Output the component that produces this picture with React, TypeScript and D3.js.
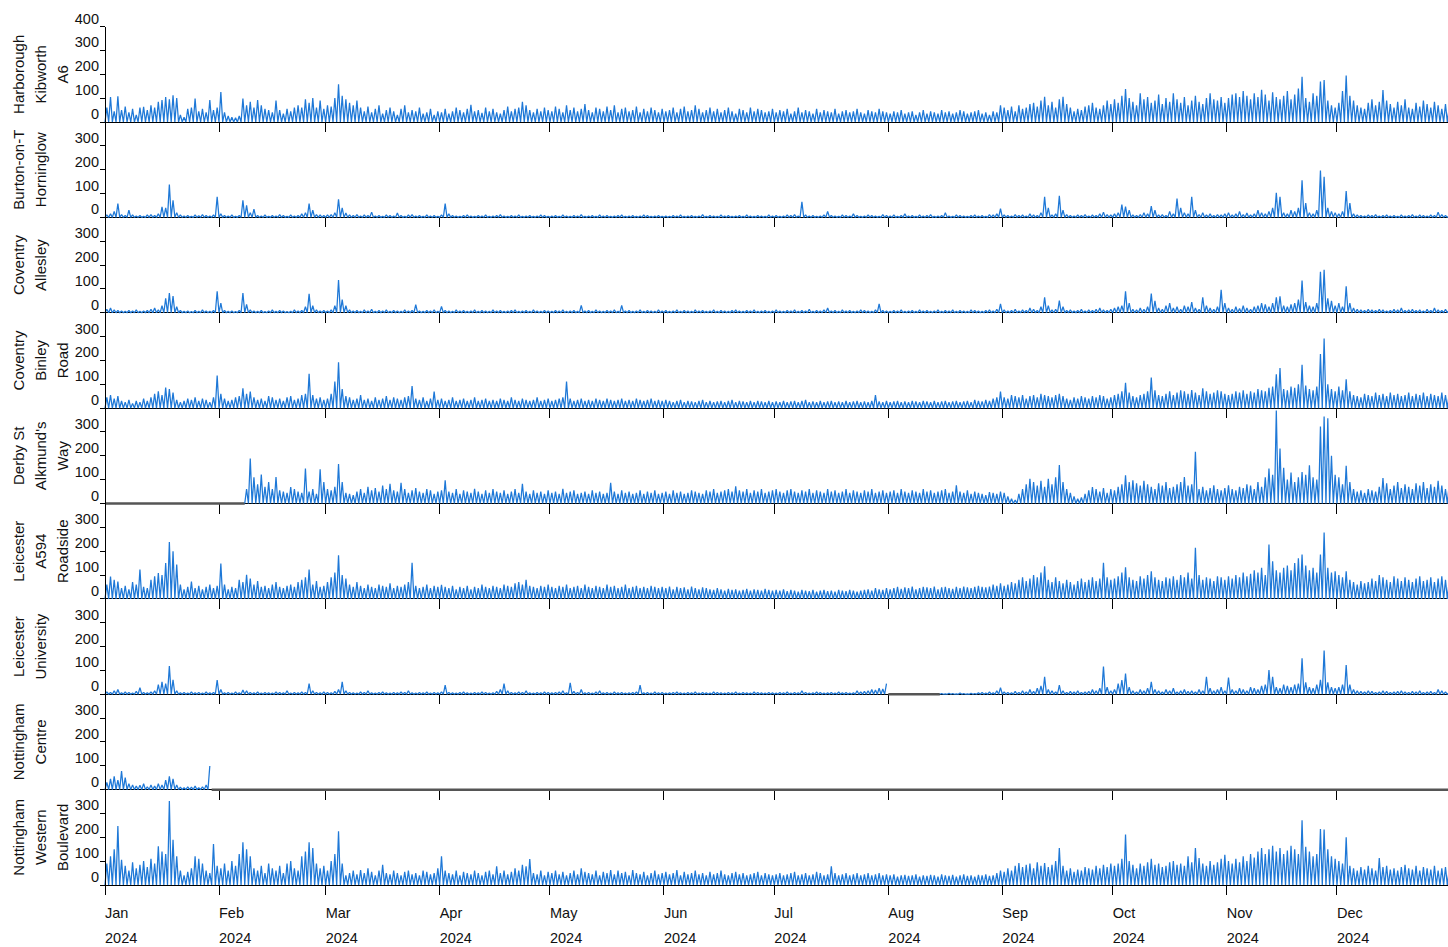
import React, { useRef, useEffect } from "react";
import * as d3 from "d3";

// station names, one entry per text line
const stationLabels = [
  ["Harborough", "Kibworth", "A6"],
  ["Burton-on-T", "Horninglow"],
  ["Coventry", "Allesley"],
  ["Coventry", "Binley", "Road"],
  ["Derby St", "Alkmund's", "Way"],
  ["Leicester", "A594", "Roadside"],
  ["Leicester", "University"],
  ["Nottingham", "Centre"],
  ["Nottingham", "Western", "Boulevard"],
];

const monthNames = ["Jan", "Feb", "Mar", "Apr", "May", "Jun", "Jul", "Aug", "Sep", "Oct", "Nov", "Dec"];
const yearLabel = "2024";
const yTicks = [0, 100, 200, 300];
const yTicksTop = [0, 100, 200, 300, 400];

// daily peak values, one string per month ("-" or empty = no data)
const harborough = [
  "60 105 45 108 50 65 40 55 30 60 64 50 70 60 85 92 105 95 112 100 30 20 55 60 98 45 55 40 92 50 60",
  "126 40 25 20 18 25 98 70 85 60 92 70 55 50 40 90 50 35 55 45 60 70 60 95 80 100 60 90 55",
  "70 65 100 158 110 95 80 70 90 60 45 65 40 55 70 35 50 60 45 30 55 70 40 50 45 60 35 40 55 30 45",
  "40 55 35 45 60 50 40 55 72 45 50 38 60 45 55 40 35 50 65 45 55 60 85 70 50 40 55 45 60 50",
  "45 65 55 40 70 50 60 45 55 75 50 40 60 55 45 65 50 70 40 55 60 45 50 65 40 55 45 60 50 40 55",
  "45 50 60 40 55 65 45 50 70 55 40 50 60 45 55 40 50 60 45 35 55 50 40 60 45 55 50 40 45 55",
  "40 50 45 55 35 45 60 40 50 45 35 55 40 50 45 40 55 35 45 50 40 45 55 40 35 50 45 40 55 45 40",
  "35 45 40 50 35 40 45 30 40 50 35 45 40 35 50 40 45 35 40 50 45 35 40 45 50 35 40 30 45 40 70",
  "60 50 65 45 70 55 60 75 80 65 90 106 70 85 60 95 106 75 60 45 55 50 65 70 80 60 55 70 90 75",
  "95 80 110 138 100 85 70 120 95 105 80 90 115 75 100 85 120 95 80 105 70 90 110 85 75 100 120 95 90 105 80",
  "100 115 120 105 130 110 95 120 105 135 115 90 125 105 95 110 130 95 115 140 190 100 85 120 110 170 176 90 70 60",
  "80 130 195 110 90 70 60 55 80 95 70 85 134 90 75 60 85 70 95 60 55 80 65 90 75 60 85 70 55 75 60",
];

const burton = [
  "10 15 25 58 12 8 30 10 6 8 5 10 12 8 15 44 40 138 72 20 10 6 8 5 10 7 12 8 6 10 86",
  "15 8 6 10 5 8 72 50 20 35 8 6 10 5 8 6 12 8 5 10 6 8 15 20 58 30 12 10 8",
  "10 12 20 76 40 18 10 8 12 6 10 8 22 6 8 5 10 8 6 18 8 5 10 12 6 8 5 10 6 8 5",
  "10 58 15 8 6 5 8 10 6 5 8 6 10 5 6 8 12 6 5 8 6 10 5 6 8 5 6 10 8 5",
  "6 8 5 10 6 5 8 6 12 5 6 8 5 10 6 8 5 6 8 10 5 6 8 5 6 10 8 5 6 8 5",
  "6 5 8 6 10 5 6 8 5 6 12 5 8 6 5 10 6 8 5 6 8 5 10 6 5 8 6 5 10 6",
  "8 5 6 10 8 12 6 65 10 6 8 5 6 10 25 8 6 5 10 8 6 15 8 5 6 10 8 6 5 12 8",
  "6 10 5 8 15 6 8 5 10 6 8 12 5 6 8 20 6 5 10 8 6 5 8 10 6 8 5 12 10 15 37",
  "10 8 6 12 8 10 6 15 10 8 20 86 40 10 15 90 30 12 8 6 10 8 12 6 10 8 15 22 12 10",
  "15 20 54 45 30 10 8 12 20 15 47 30 10 12 8 25 15 79 40 20 15 86 30 12 20 10 15 8 12 10 15",
  "20 10 15 25 12 18 10 15 30 20 15 25 40 103 86 20 15 30 25 40 156 60 20 15 30 196 170 40 25 20",
  "15 25 110 60 15 10 8 6 10 8 12 6 8 10 6 8 5 10 6 8 12 6 10 8 6 10 8 22 12 8 6",
];

const allesley = [
  "15 20 12 10 8 6 10 8 12 6 8 10 15 20 12 30 60 83 70 25 10 6 8 5 10 6 12 8 6 10 90",
  "40 10 6 8 5 10 83 35 12 8 6 10 5 8 12 6 10 8 5 6 12 8 10 25 79 30 12 8 10",
  "8 12 30 137 55 30 12 8 10 6 12 8 15 6 10 8 12 6 10 8 6 12 8 10 34 8 6 10 8 12 6",
  "27 10 8 6 12 8 10 6 8 12 6 10 8 6 12 8 10 6 8 10 12 6 8 10 6 12 8 6 10 8",
  "6 10 8 12 6 8 10 6 31 8 10 6 12 8 6 10 8 12 6 31 8 10 6 8 12 6 10 8 6 12 8",
  "10 6 8 12 6 10 8 6 12 8 10 6 8 12 6 10 8 6 10 12 8 6 10 8 12 6 8 10 6 8",
  "12 8 6 10 8 12 6 10 8 15 6 10 8 12 20 8 10 6 12 8 10 6 8 12 10 8 6 12 37 10 8",
  "6 10 8 12 6 8 10 6 12 8 10 6 8 12 6 10 8 12 6 10 8 6 12 10 8 6 10 12 8 15 37",
  "12 8 10 15 8 12 10 20 15 10 25 65 30 12 15 51 25 10 12 8 10 15 8 12 10 15 20 12 10 15",
  "20 25 30 90 40 15 12 20 15 25 80 50 20 15 30 40 20 25 15 30 25 45 20 15 65 30 20 15 25 96 40",
  "20 15 25 18 30 20 15 25 30 40 35 25 40 65 69 30 25 35 40 55 135 45 30 25 40 172 180 60 50 30",
  "40 25 111 40 20 15 12 10 15 12 10 15 12 8 10 15 12 20 10 12 15 10 12 8 15 10 20 12 10 15 12",
];

const binley = [
  "45 55 40 50 30 25 35 20 30 25 40 30 45 60 70 55 86 80 65 35 25 30 40 35 45 30 40 35 25 45 137",
  "60 40 30 35 45 50 83 60 69 45 35 40 30 50 45 35 40 30 45 50 35 40 55 60 144 55 40 45 35",
  "40 60 111 192 80 50 45 35 40 55 35 40 30 45 35 40 50 35 45 40 35 45 50 93 40 35 45 30 40 69 35",
  "40 30 35 45 30 35 40 30 35 45 30 35 40 30 35 30 40 35 30 45 35 30 40 35 30 35 45 30 35 40",
  "30 35 40 45 111 40 30 35 40 30 35 30 40 35 30 40 35 30 35 40 30 35 30 40 35 30 35 40 30 35 30",
  "35 30 25 30 35 25 30 28 25 30 35 25 30 25 28 30 25 30 35 25 30 28 25 30 25 30 28 25 30 25",
  "28 25 30 25 28 30 25 30 35 25 28 25 30 25 28 30 25 28 25 30 25 28 30 25 28 25 30 55 28 25 30",
  "25 28 30 25 28 25 30 28 25 30 28 25 30 25 28 30 25 28 30 25 28 30 25 35 30 28 35 30 40 45 69",
  "45 40 55 50 45 55 40 50 55 45 60 55 50 45 55 60 50 40 35 45 40 50 45 40 50 45 55 50 40 45",
  "55 60 70 106 65 50 45 55 60 70 128 75 55 50 60 70 55 65 75 70 60 76 65 55 83 70 60 65 75 70 60",
  "55 60 70 65 75 60 70 65 80 75 70 85 90 142 168 80 75 90 85 100 182 95 80 75 90 227 292 100 80 70",
  "90 75 121 70 55 50 45 60 55 50 65 55 60 50 65 55 60 50 55 65 50 60 55 65 50 60 55 50 65 55 60",
];

const derby = [
  "",
  "- - - - - - - 60 189 110 80 121 70 90 60 111 55 50 45 69 60 50 45 147 50 60 40 144 90",
  "60 55 70 166 90 45 40 35 50 60 45 70 55 65 50 75 60 83 55 50 87 60 45 55 65 50 45 60 55 40 50",
  "55 97 50 45 60 40 55 50 45 62 50 40 55 45 60 50 45 55 40 50 60 45 83 50 40 55 45 50 40 55",
  "45 50 40 62 45 50 55 40 45 50 40 55 45 50 40 45 87 50 40 55 45 50 40 45 55 40 50 45 55 40 45",
  "50 40 55 45 50 40 45 55 50 45 40 55 50 60 45 50 55 60 50 72 55 50 60 45 55 50 60 45 50 55",
  "60 50 45 55 60 50 45 55 50 60 45 55 50 45 60 50 55 45 50 60 45 55 50 45 55 50 60 45 50 55 45",
  "50 55 45 60 50 45 55 50 45 60 50 55 45 50 55 60 45 50 76 50 45 55 40 50 45 40 35 48 45 40 50",
  "45 30 20 15 40 60 80 104 90 75 95 70 104 80 110 161 90 60 45 30 20 25 40 55 69 60 50 65 45 60",
  "55 70 80 118 90 97 85 75 95 80 70 60 85 75 90 65 70 80 90 111 75 80 217 60 70 55 65 76 60 55 65",
  "76 60 55 70 65 80 75 60 90 70 110 147 120 390 231 150 100 130 90 110 132 120 160 110 100 323 365 358 200 120",
  "110 80 158 90 60 50 55 45 60 55 50 70 107 85 60 75 90 65 80 70 60 85 75 90 65 80 70 95 75 60 80",
];

const leicesterA594 = [
  "60 94 80 73 45 55 40 70 60 123 50 45 80 95 108 100 150 238 200 144 60 40 50 73 45 55 40 50 60 45 55",
  "148 60 40 50 45 80 70 101 85 60 75 50 55 45 60 70 50 45 55 60 50 70 80 90 123 60 75 50 55",
  "70 90 110 183 100 85 60 50 70 55 45 60 50 45 60 55 50 65 45 55 50 60 70 151 55 45 50 60 45 55 50",
  "59 50 45 55 40 50 45 55 40 50 45 60 50 45 55 50 45 60 55 50 65 70 60 80 55 50 45 55 50 60",
  "50 45 55 50 60 45 50 55 45 60 50 45 55 50 45 60 50 55 45 50 60 45 50 55 45 50 45 55 50 45 50",
  "45 52 40 50 45 48 40 52 45 40 48 45 40 38 45 40 35 42 38 40 35 38 42 35 40 38 35 42 38 35",
  "38 35 40 32 38 35 30 38 35 32 38 30 35 38 32 35 30 38 35 32 38 35 30 35 38 40 35 45 40 38 45",
  "40 45 50 42 48 45 52 40 45 50 48 45 52 40 48 50 45 42 50 45 52 48 45 50 55 50 48 52 60 55 65",
  "55 60 70 65 80 90 75 85 100 90 110 137 80 70 90 75 65 80 70 60 75 85 70 80 90 75 85 151 90 80",
  "85 95 110 133 90 80 75 95 85 100 116 90 80 75 90 85 95 80 100 90 110 85 214 100 80 90 85 75 95 90 80",
  "95 85 100 90 110 95 105 120 110 130 100 228 158 120 110 130 140 120 150 170 186 140 120 130 110 186 278 130 110 116",
  "100 90 116 80 70 60 75 65 70 85 75 100 90 80 70 95 85 75 90 80 70 85 95 75 80 90 70 85 95 80 75",
];

const leicesterUni = [
  "10 8 15 20 6 10 8 5 12 28 8 6 10 15 40 52 45 118 60 15 6 8 5 10 6 8 5 10 6 8 59",
  "20 6 8 5 10 6 18 15 8 6 10 5 8 6 5 10 8 6 15 5 8 6 10 8 45 15 8 6 10",
  "8 6 12 20 52 15 8 6 5 10 8 15 6 5 8 10 6 5 8 6 10 8 15 6 5 8 6 10 5 8 6",
  "10 38 8 6 5 8 10 6 5 8 6 10 8 5 6 12 20 45 15 8 6 10 8 15 6 5 8 6 10 8",
  "6 8 10 15 6 48 12 8 20 6 8 5 10 15 6 8 5 10 6 8 5 6 8 10 38 6 8 5 10 6 8",
  "5 6 8 10 6 5 8 6 10 5 8 6 5 10 8 6 5 8 6 10 5 8 6 5 10 8 6 5 8 6",
  "5 8 6 10 5 8 6 15 8 5 6 10 8 5 6 8 5 10 6 8 5 6 15 10 12 15 20 18 25 22 45",
  "- - - - - - - - - - - - - - 3 2 4 3 2 5 3 2 4 3 6 8 5 10 6 15 28",
  "10 8 6 12 8 15 10 20 12 25 35 73 20 15 10 38 15 8 12 10 15 8 10 12 20 15 25 116 30 15",
  "20 45 59 87 30 15 10 20 15 25 52 20 15 10 20 15 25 10 15 20 12 15 10 20 15 73 25 15 20 30 15",
  "70 20 15 25 20 15 30 25 20 35 40 101 73 30 25 40 35 30 40 45 151 50 30 25 40 60 183 50 30 25",
  "30 40 123 40 20 15 12 10 15 12 8 10 15 12 8 10 12 15 10 8 12 10 15 8 10 12 8 20 15 10 8",
];

const nottsCentre = [
  "30 45 56 40 78 50 25 20 15 18 25 12 20 15 25 20 40 56 45 20 10 8 12 10 15 8 12 20 99 - -",
  "", "", "", "", "", "", "", "", "", "", "",
];

const nottsWestern = [
  "90 120 150 247 106 80 60 95 70 85 100 75 110 90 162 140 130 352 190 120 60 40 55 70 120 110 90 60 50 172 80",
  "70 90 60 100 80 130 179 150 120 70 60 80 50 90 70 60 80 50 90 100 70 60 120 140 179 155 90 70 80",
  "60 100 130 225 90 40 50 60 45 63 50 70 55 40 60 85 50 45 60 50 40 55 60 45 50 40 60 55 45 50 70",
  "120 60 50 45 60 40 55 50 45 60 50 40 55 60 45 78 50 60 45 55 70 60 85 78 109 50 45 60 40 55",
  "50 60 45 55 40 50 60 45 70 55 50 45 60 40 55 50 63 45 60 50 55 40 63 50 45 55 40 50 60 45 50",
  "55 45 50 63 40 55 45 50 60 45 50 40 55 45 50 60 45 40 50 55 45 50 40 45 50 55 40 50 45 40",
  "45 50 40 45 50 55 40 45 50 40 45 55 50 40 45 78 50 40 45 50 40 45 50 40 45 50 40 45 50 40 45",
  "40 45 35 40 42 38 40 45 35 40 38 42 40 35 45 40 38 42 35 40 45 38 40 35 42 40 45 38 40 50 60",
  "55 70 60 80 92 75 85 90 70 95 80 92 75 85 100 155 80 60 70 55 65 60 75 70 65 80 70 85 75 90",
  "80 90 110 212 100 85 70 90 80 95 110 85 90 75 80 95 100 85 90 80 120 95 155 113 90 80 100 85 95 110 127",
  "100 90 110 95 120 100 130 115 140 155 130 150 165 140 155 130 145 165 150 130 271 160 140 120 130 235 233 150 120 110",
  "100 90 200 80 70 60 75 65 80 70 60 113 75 80 65 70 60 75 85 70 65 80 60 75 70 65 80 60 70 75 65",
];

const allSeries = [harborough, burton, allesley, binley, derby, leicesterA594, leicesterUni, nottsCentre, nottsWestern];

const W = 1448;
const H = 947;
const plotLeft = 105;
const plotRight = 1451;
const firstBase = 122;
const panelH = 95.375;
const blue = "#1e78d7";
const font = "'Liberation Sans', Arial, sans-serif";

type Pt = { day: Date; v: number | null };

function parseSeries(months: string[]): Pt[] {
  const out: Pt[] = [];
  months.forEach((s, m) => {
    const n = new Date(2024, m + 1, 0).getDate();
    const toks = s.trim() ? s.trim().split(/\s+/) : [];
    for (let i = 0; i < n; i++) {
      const t = toks[i];
      out.push({ day: new Date(2024, m, i + 1), v: t === undefined || t === "-" ? null : +t });
    }
  });
  return out;
}

const App = () => {
  const ref = useRef<SVGSVGElement>(null);

  useEffect(() => {
    const svg = d3.select(ref.current);
    svg.selectAll("*").remove();

    const x = d3
      .scaleTime()
      .domain([new Date(2024, 0, 1), new Date(2025, 0, 1)])
      .range([plotLeft, plotRight]);
    const monthStarts = d3.timeMonth.range(new Date(2024, 0, 1), new Date(2025, 0, 1));

    allSeries.forEach((months, i) => {
      const base = firstBase + i * panelH;
      const y = d3.scaleLinear().domain([0, 400]).range([base, base - panelH]);
      const g = svg.append("g");

      // baseline
      g.append("line")
        .attr("x1", plotLeft)
        .attr("x2", W)
        .attr("y1", base)
        .attr("y2", base)
        .attr("stroke", "#000")
        .attr("shape-rendering", "crispEdges");

      // month ticks hanging below baseline
      g.selectAll("line.mt")
        .data(monthStarts)
        .join("line")
        .attr("class", "mt")
        .attr("x1", (d) => x(d))
        .attr("x2", (d) => x(d))
        .attr("y1", base)
        .attr("y2", base + 10)
        .attr("stroke", "#000")
        .attr("shape-rendering", "crispEdges");

      // y ticks and labels
      const ticks = i === 0 ? yTicksTop : yTicks;
      g.selectAll("line.yt")
        .data(ticks)
        .join("line")
        .attr("class", "yt")
        .attr("x1", plotLeft - 5)
        .attr("x2", plotLeft)
        .attr("y1", (d) => y(d))
        .attr("y2", (d) => y(d))
        .attr("stroke", "#000")
        .attr("shape-rendering", "crispEdges");
      g.selectAll("text.yl")
        .data(ticks)
        .join("text")
        .attr("class", "yl")
        .attr("x", plotLeft - 6)
        .attr("y", (d) => y(d) - 3)
        .attr("text-anchor", "end")
        .style("font-family", font)
        .style("font-size", "14.5px")
        .style("fill", "#111")
        .text((d) => d);

      // station name, rotated, one column per line
      const cy = base - panelH / 2;
      stationLabels[i].forEach((txt, k) => {
        g.append("text")
          .attr("transform", `translate(${24 + k * 22},${cy}) rotate(-90)`)
          .attr("text-anchor", "middle")
          .style("font-family", font)
          .style("font-size", "15px")
          .style("fill", "#111")
          .text(txt);
      });

      const pts = parseSeries(months);

      // grey baseline where there is no data
      let start = -1;
      pts.forEach((p, j) => {
        const missing = p.v === null;
        if (missing && start < 0) start = j;
        if ((!missing || j === pts.length - 1) && start >= 0) {
          const end = missing ? j + 1 : j;
          const x0 = x(pts[start].day);
          const x1 = end < pts.length ? x(pts[end].day) : plotRight;
          g.append("line")
            .attr("x1", x0)
            .attr("x2", x1)
            .attr("y1", base)
            .attr("y2", base)
            .attr("stroke", "#555")
            .attr("stroke-width", 2.5);
          start = -1;
        }
      });

      // daily peaks drawn as spikes from the baseline
      const zig = pts.flatMap((p) => [
        { t: p.day, v: p.v === null ? null : 0 },
        { t: d3.timeHour.offset(p.day, 12), v: p.v },
      ]);
      const line = d3
        .line<{ t: Date; v: number | null }>()
        .defined((d) => d.v !== null)
        .x((d) => x(d.t))
        .y((d) => y(d.v as number));
      g.append("path")
        .attr("d", line(zig))
        .attr("fill", "none")
        .attr("stroke", blue)
        .attr("stroke-width", 1.25)
        .attr("stroke-linejoin", "bevel");
    });

    // shared y axis line
    svg.append("line")
      .attr("x1", plotLeft)
      .attr("x2", plotLeft)
      .attr("y1", firstBase - panelH)
      .attr("y2", firstBase + 8 * panelH)
      .attr("stroke", "#000")
      .attr("shape-rendering", "crispEdges");

    // month and year labels under the last panel
    const lastBase = firstBase + 8 * panelH;
    const lab = svg.append("g")
      .style("font-family", font)
      .style("font-size", "14.5px")
      .style("fill", "#111");
    lab.selectAll("text.mn")
      .data(monthStarts)
      .join("text")
      .attr("class", "mn")
      .attr("x", (d) => x(d))
      .attr("y", lastBase + 33)
      .text((d) => monthNames[d.getMonth()]);
    lab.selectAll("text.yr")
      .data(monthStarts)
      .join("text")
      .attr("class", "yr")
      .attr("x", (d) => x(d))
      .attr("y", lastBase + 58)
      .text(yearLabel);
  }, []);

  return (
    <svg
      ref={ref}
      width={W}
      height={H}
      style={{ position: "absolute", left: 0, top: 0, background: "#fff" }}
    ></svg>
  );
};

export default App;
